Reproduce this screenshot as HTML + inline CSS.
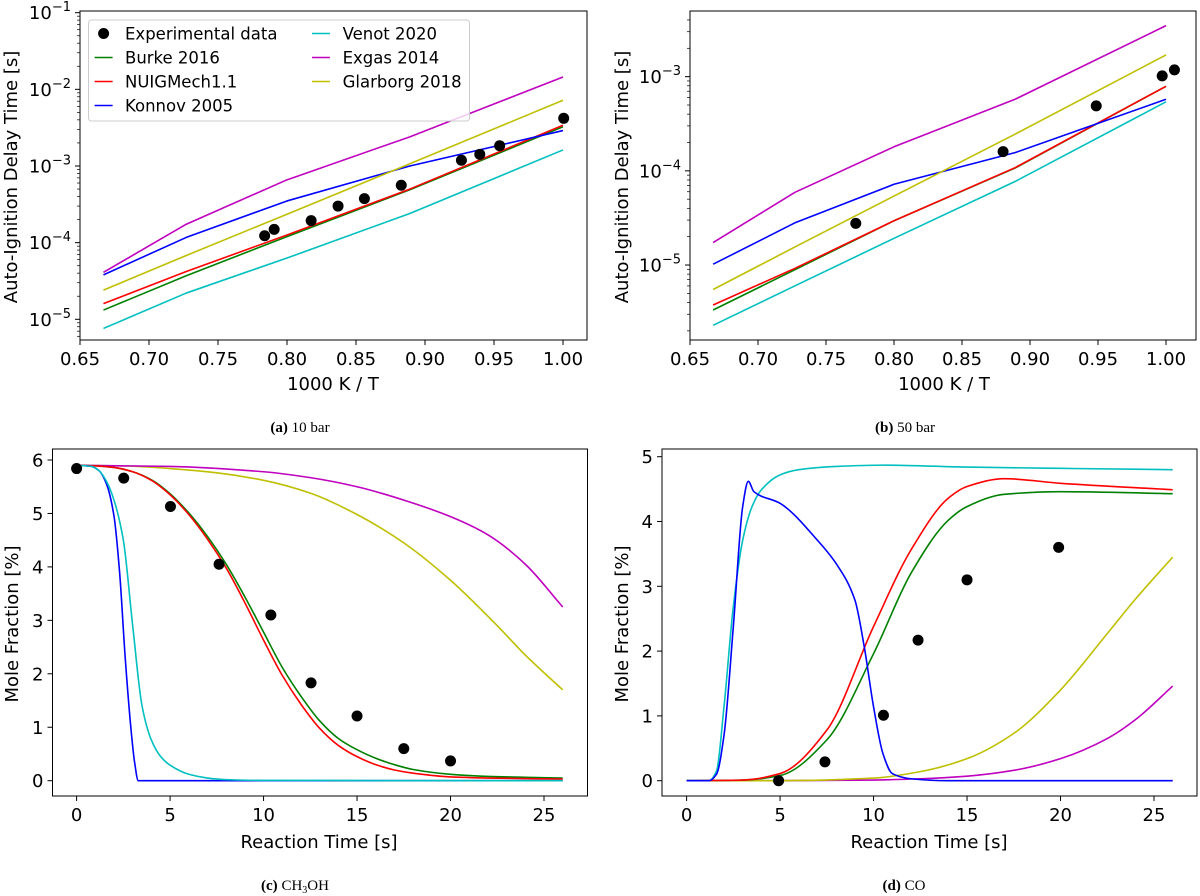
<!DOCTYPE html>
<html><head><meta charset="utf-8">
<style>
html,body{margin:0;padding:0;background:#fff;}
svg{display:block;}
text{font-family:"DejaVu Sans","Liberation Sans",sans-serif;fill:#000;}
.cap{font-family:"Liberation Serif",serif;font-size:15px;}
</style></head>
<body>
<svg id="fig" width="1200" height="896" viewBox="0 0 1200 896" xmlns="http://www.w3.org/2000/svg">
<g id="pa"></g>
<g id="pb"></g>
<g id="pc"></g>
<g id="pd"></g>
<text class="cap" x="300" y="432" text-anchor="middle"><tspan font-weight="bold">(a)</tspan> 10 bar</text>
<text class="cap" x="905" y="432" text-anchor="middle"><tspan font-weight="bold">(b)</tspan> 50 bar</text>
<text class="cap" x="295" y="890" text-anchor="middle"><tspan font-weight="bold">(c)</tspan> CH<tspan font-size="10" dy="3">3</tspan><tspan dy="-3">OH</tspan></text>
<text class="cap" x="904" y="890" text-anchor="middle"><tspan font-weight="bold">(d)</tspan> CO</text>
</svg>
<script>
// ---------- data ----------
const seriesNames = ["Burke 2016","NUIGMech1.1","Konnov 2005","Venot 2020","Exgas 2014","Glarborg 2018"];
const seriesColors = ["#008000","#ff0000","#0000ff","#00bfbf","#bf00bf","#bfbf00"];

// Panel a (10 bar) : x = 1000K/T, y = IDT [s]
const aLineX = [0.667,0.727,0.8,0.889,1.0];
const aBurke   = [1.32e-5,3.7e-5,1.2e-4,4.9e-4,3.25e-3];
const aNUIG    = [1.6e-5,4.2e-5,1.26e-4,5.0e-4,3.4e-3];
const aKonnov  = [3.8e-5,1.17e-4,3.5e-4,1.0e-3,2.9e-3];
const aVenot   = [7.6e-6,2.2e-5,6.3e-5,2.4e-4,1.62e-3];
const aExgas   = [4.1e-5,1.74e-4,6.6e-4,2.4e-3,1.45e-2];
const aGlarborg= [2.4e-5,6.8e-5,2.35e-4,1.07e-3,7.2e-3];
const aExpX = [0.7838,0.7907,0.8175,0.8370,0.8561,0.8828,0.9264,0.9397,0.9541,1.0005];
const aExpY = [1.23e-4,1.49e-4,1.94e-4,3.0e-4,3.75e-4,5.6e-4,1.19e-3,1.42e-3,1.84e-3,4.19e-3];

// Panel b (50 bar)
const bLineX = [0.667,0.727,0.8,0.889,1.0];
const bBurke   = [3.33e-6,8.9e-6,2.95e-5,1.07e-4,7.9e-4];
const bNUIG    = [3.76e-6,9.2e-6,2.95e-5,1.08e-4,7.9e-4];
const bKonnov  = [1.02e-5,2.8e-5,7.2e-5,1.56e-4,5.75e-4];
const bVenot   = [2.29e-6,6.0e-6,1.92e-5,7.7e-5,5.4e-4];
const bExgas   = [1.73e-5,5.9e-5,1.8e-4,5.75e-4,3.48e-3];
const bGlarborg= [5.5e-6,1.55e-5,5.4e-5,2.45e-4,1.7e-3];
const bExpX = [0.7719,0.8802,0.9487,0.9972,1.0062];
const bExpY = [2.77e-5,1.6e-4,4.9e-4,1.02e-3,1.18e-3];

// Panel c (CH3OH mole fraction %)
const cTimeRG = [0,1,2,3,4,5,6,7,8,9,10,11,12,13,14,15,16,17,18,20,22,26];
const cBurke = [5.9,5.89,5.86,5.78,5.63,5.37,5.01,4.57,4.05,3.44,2.78,2.12,1.58,1.12,0.79,0.58,0.42,0.30,0.21,0.12,0.08,0.05];
const cNUIG  = [5.9,5.89,5.86,5.78,5.62,5.35,4.98,4.52,3.98,3.33,2.63,1.97,1.43,0.98,0.66,0.45,0.30,0.20,0.14,0.07,0.05,0.03];
const cTimeKonnov = [0,0.8,1.2,1.6,2.0,2.3,2.6,2.9,3.1,3.3,4,26];
const cKonnov = [5.9,5.88,5.8,5.55,4.95,3.9,2.3,1.0,0.35,0.0,0,0];
const cTimeVenot = [0,0.8,1.2,1.6,2.0,2.5,3.0,3.5,4.0,4.5,5,6,7,8,10,26];
const cVenot = [5.9,5.88,5.8,5.6,5.25,4.5,2.9,1.4,0.76,0.45,0.29,0.12,0.05,0.02,0.005,0];
const cTimeExgas = [0,5,10,12.5,15,17.5,20,22,24,26];
const cExgas = [5.9,5.88,5.78,5.67,5.5,5.25,4.94,4.6,4.05,3.25];
const cTimeGlarborg = [0,2.5,5,7.5,10,12.5,15,17.5,20,22.5,24,26];
const cGlarborg = [5.9,5.89,5.84,5.76,5.62,5.38,4.98,4.45,3.75,2.9,2.35,1.7];
const cExpX = [0,2.52,5.02,7.62,10.39,12.54,15.0,17.5,20.0];
const cExpY = [5.84,5.66,5.13,4.05,3.10,1.83,1.21,0.60,0.37];

// Panel d (CO mole fraction %)
const dTimeVenot = [0,1.2,1.6,2,2.5,3,3.5,4,5,6,8,10.5,15,20,26];
const dVenot = [0,0,0.15,1.14,2.69,3.71,4.23,4.49,4.72,4.8,4.85,4.87,4.84,4.82,4.8];
const dTimeKonnov = [0,1.2,1.6,2,2.5,3,3.3,3.6,5,7,8,9,9.5,10,10.5,11,12,14,26];
const dKonnov = [0,0,0.1,0.7,2.38,4.23,4.62,4.46,4.28,3.71,3.35,2.79,2.07,1.14,0.42,0.11,0.03,0,0];
const dTimeRG = [0,3,5,7.5,10,12,14,15,17,20,26];
const dNUIG  = [0,0.01,0.11,0.78,2.38,3.56,4.36,4.54,4.66,4.59,4.49];
const dBurke = [0,0.01,0.08,0.63,1.96,3.2,4.02,4.23,4.42,4.46,4.43];
const dTimeGM = [0,5,10,12.5,15,17.5,20,22.5,24,26];
const dGlarborg = [0,0,0.04,0.14,0.34,0.73,1.4,2.27,2.8,3.45];
const dExgas = [0,0,0.01,0.03,0.07,0.16,0.34,0.65,0.94,1.46];
const dExpX = [4.92,7.4,10.53,12.38,15.0,19.9];
const dExpY = [0,0.29,1.01,2.17,3.10,3.60];

const xTicksIdt = [0.65,0.70,0.75,0.80,0.85,0.90,0.95,1.00];
const xTickLabelsIdt = ["0.65","0.70","0.75","0.80","0.85","0.90","0.95","1.00"];
const xTicksTime = [0,5,10,15,20,25];
const cYTicks = [0,1,2,3,4,5,6];
const dYTicks = [0,1,2,3,4,5];

// ---------- drawing ----------
const NS = "http://www.w3.org/2000/svg";
const FS = 18;
function el(parent, tag, attrs){ const e=document.createElementNS(NS,tag); for(const k in attrs) e.setAttribute(k,attrs[k]); parent.appendChild(e); return e; }

function linScale(d0,d1,r0,r1){ return v => r0 + (v-d0)/(d1-d0)*(r1-r0); }
function logScale(l0,l1,r0,r1){ return v => r0 + (Math.log10(v)-l0)/(l1-l0)*(r1-r0); }

function drawFrame(g, box){
  const r = el(g,'rect',{x:box.l,y:box.t,width:box.r-box.l,height:box.b-box.t,fill:'none',stroke:'#000','stroke-width':1});
  
  
}
function xTicks(g, box, sx, ticks, labels){
  ticks.forEach((t,i)=>{
    const x=sx(t);
    const tk=el(g,'line',{x1:x,x2:x,y1:box.b,y2:box.b+5,stroke:'#000','stroke-width':1});
    
    
    const tx=el(g,'text',{x:x,y:box.b+25,'text-anchor':'middle','font-size':FS});
    
    
    tx.textContent=labels[i];
  });
}
function yTicksLin(g, box, sy, ticks){
  ticks.forEach(t=>{
    const y=sy(t);
    const tk=el(g,'line',{x1:box.l-5,x2:box.l,y1:y,y2:y,stroke:'#000','stroke-width':1});
    
    
    const tx=el(g,'text',{x:box.l-9,y:y+6.5,'text-anchor':'end','font-size':FS});
    
    
    tx.textContent=String(t);
  });
}
function yTicksLog(g, box, sy, lo, hi){
  for(let d=Math.floor(lo); d<=Math.ceil(hi); d++){
    for(let m=1;m<10;m++){
      const v=m*Math.pow(10,d); const lv=Math.log10(v);
      if(lv<lo-1e-9||lv>hi+1e-9) continue;
      const y=sy(v);
      const tk=el(g,'line',{x1:box.l-(m===1?5:3),x2:box.l,y1:y,y2:y,stroke:'#000','stroke-width':m===1?1:0.7});
      
      
      if(m===1){
        const tx=el(g,'text',{x:box.l-9,y:y+6.5,'text-anchor':'end','font-size':FS});
        
        
        tx.textContent='10';
        const sp=el(tx,'tspan',{dy:-8,'font-size':13}); sp.textContent='\u2212'+(-d);
      }
    }
  }
}
function label(g, x, y, txt, rot, name){
  const t=el(g,'text',{x:x,y:y,'text-anchor':'middle','font-size':FS});
  if(rot) t.setAttribute('transform',`rotate(-90 ${x} ${y})`);
  
  
  t.textContent=txt;
}
function line(g, sx, sy, xs, ys, color, name){
  const pts=xs.map((x,i)=>sx(x).toFixed(2)+','+sy(ys[i]).toFixed(2)).join(' ');
  const p=el(g,'polyline',{points:pts,fill:'none',stroke:color,'stroke-width':1.6,'stroke-linejoin':'round'});
  
  
}
// monotone cubic (Fritsch-Carlson) smooth curve
function smooth(g, sx, sy, xs, ys, color, name){
  const X=xs.map(sx), Y=ys.map(sy), n=X.length;
  const dl=[], m=new Array(n);
  for(let i=0;i<n-1;i++) dl.push((Y[i+1]-Y[i])/(X[i+1]-X[i]));
  m[0]=dl[0]; m[n-1]=dl[n-2];
  for(let i=1;i<n-1;i++){
    if(dl[i-1]*dl[i]<=0) m[i]=0;
    else { const h0=X[i]-X[i-1], h1=X[i+1]-X[i]; const w1=2*h1+h0, w2=h1+2*h0; m[i]=(w1+w2)/(w1/dl[i-1]+w2/dl[i]); }
  }
  let d=`M${X[0].toFixed(2)},${Y[0].toFixed(2)}`;
  for(let i=0;i<n-1;i++){
    const h=(X[i+1]-X[i])/3;
    d+=` C${(X[i]+h).toFixed(2)},${(Y[i]+m[i]*h).toFixed(2)} ${(X[i+1]-h).toFixed(2)},${(Y[i+1]-m[i+1]*h).toFixed(2)} ${X[i+1].toFixed(2)},${Y[i+1].toFixed(2)}`;
  }
  const p=el(g,'path',{d:d,fill:'none',stroke:color,'stroke-width':1.6,'stroke-linejoin':'round'});
  
  
}
function dots(g, sx, sy, xs, ys, name){
  xs.forEach((x,i)=>{
    const c=el(g,'circle',{cx:sx(x),cy:sy(ys[i]),r:5.5,fill:'#000'});
    
    
  });
}
function clip(g, id, box){
  const d=el(g,'clipPath',{id:id}); el(d,'rect',{x:box.l,y:box.t,width:box.r-box.l,height:box.b-box.t});
  const cg=el(g,'g',{'clip-path':`url(#${id})`});
  
  
  return cg;
}

// Panel a
(function(){
  const g=document.getElementById('pa');
  const box={l:80,r:587,t:11,b:340};
  const lo=-5.27, hi=-0.978;
  const sx=linScale(0.65,1.0,80,563);
  const sy=logScale(lo,hi,340,11);
  const pg=clip(g,'ca',box);
  const sets=[aBurke,aNUIG,aKonnov,aVenot,aExgas,aGlarborg];
  const names=['line-burke-2016','line-nuigmech1-1','line-konnov-2005','line-venot-2020','line-exgas-2014','line-glarborg-2018'];
  sets.forEach((s,i)=>line(pg,sx,sy,aLineX,s,seriesColors[i],names[i]));
  dots(pg,sx,sy,aExpX,aExpY,'experimental-point');
  drawFrame(g,box);
  xTicks(g,box,sx,xTicksIdt,xTickLabelsIdt);
  yTicksLog(g,box,sy,lo,hi);
  label(g,333,390,'1000 K / T',false,'x-axis-title');
  label(g,17,177,'Auto-Ignition Delay Time [s]',true,'y-axis-title');
  const lg=el(g,'g',{});
  
  
  const lr=el(lg,'rect',{x:88.5,y:20,width:381,height:101,rx:3,fill:'#fff','fill-opacity':0.8,stroke:'#ccc','stroke-width':1});
  
  
  const entries=[['Experimental data',null],['Burke 2016',0],['NUIGMech1.1',1],['Konnov 2005',2],['Venot 2020',3],['Exgas 2014',4],['Glarborg 2018',5]];
  entries.forEach((e,i)=>{
    const col=i<4?0:1, row=i<4?i:i-4;
    const x0=col===0?94.6:312, tx=col===0?125:342.6, y=33.5+row*24;
    const eg=el(lg,'g',{});
    
    
    if(e[1]===null){
      const c=el(eg,'circle',{cx:x0+9,cy:y,r:5.5,fill:'#000'});
      
      
    } else {
      const l=el(eg,'line',{x1:x0,x2:x0+18,y1:y,y2:y,stroke:seriesColors[e[1]],'stroke-width':1.6});
      
      
    }
    const t=el(eg,'text',{x:tx,y:y+6,'font-size':16.5});
    
    
    t.textContent=e[0];
  });
})();

// Panel b
(function(){
  const g=document.getElementById('pb');
  const box={l:690,r:1196,t:11,b:340};
  const lo=-5.796, hi=-2.303;
  const sx=linScale(0.65,1.0,690,1166);
  const sy=logScale(lo,hi,340,11);
  const pg=clip(g,'cb',box);
  const sets=[bBurke,bNUIG,bKonnov,bVenot,bExgas,bGlarborg];
  const names=['line-burke-2016','line-nuigmech1-1','line-konnov-2005','line-venot-2020','line-exgas-2014','line-glarborg-2018'];
  sets.forEach((s,i)=>line(pg,sx,sy,bLineX,s,seriesColors[i],names[i]));
  dots(pg,sx,sy,bExpX,bExpY,'experimental-point');
  drawFrame(g,box);
  xTicks(g,box,sx,xTicksIdt,xTickLabelsIdt);
  yTicksLog(g,box,sy,lo,hi);
  label(g,944,390,'1000 K / T',false,'x-axis-title');
  label(g,628,177,'Auto-Ignition Delay Time [s]',true,'y-axis-title');
})();

// Panel c
(function(){
  const g=document.getElementById('pc');
  const box={l:52.5,r:587.5,t:449,b:796};
  const sx=linScale(0,25,76.6,544);
  const sy=linScale(0,6,780.7,460);
  const pg=clip(g,'cc',box);
  smooth(pg,sx,sy,cTimeGlarborg,cGlarborg,seriesColors[5],'line-glarborg-2018');
  smooth(pg,sx,sy,cTimeExgas,cExgas,seriesColors[4],'line-exgas-2014');
  smooth(pg,sx,sy,cTimeRG,cBurke,seriesColors[0],'line-burke-2016');
  smooth(pg,sx,sy,cTimeRG,cNUIG,seriesColors[1],'line-nuigmech1-1');
  smooth(pg,sx,sy,cTimeKonnov,cKonnov,seriesColors[2],'line-konnov-2005');
  smooth(pg,sx,sy,cTimeVenot,cVenot,seriesColors[3],'line-venot-2020');
  dots(pg,sx,sy,cExpX,cExpY,'experimental-point');
  drawFrame(g,box);
  xTicks(g,box,sx,xTicksTime,xTicksTime.map(String));
  yTicksLin(g,box,sy,cYTicks);
  label(g,319,848,'Reaction Time [s]',false,'x-axis-title');
  label(g,18,624,'Mole Fraction [%]',true,'y-axis-title');
})();

// Panel d
(function(){
  const g=document.getElementById('pd');
  const box={l:662,r:1197,t:449,b:796};
  const sx=linScale(0,25,686.6,1154);
  const sy=linScale(0,5,780.7,456.7);
  const pg=clip(g,'cd',box);
  smooth(pg,sx,sy,dTimeGM,dExgas,seriesColors[4],'line-exgas-2014');
  smooth(pg,sx,sy,dTimeGM,dGlarborg,seriesColors[5],'line-glarborg-2018');
  smooth(pg,sx,sy,dTimeRG,dBurke,seriesColors[0],'line-burke-2016');
  smooth(pg,sx,sy,dTimeRG,dNUIG,seriesColors[1],'line-nuigmech1-1');
  smooth(pg,sx,sy,dTimeVenot,dVenot,seriesColors[3],'line-venot-2020');
  smooth(pg,sx,sy,dTimeKonnov,dKonnov,seriesColors[2],'line-konnov-2005');
  dots(pg,sx,sy,dExpX,dExpY,'experimental-point');
  drawFrame(g,box);
  xTicks(g,box,sx,xTicksTime,xTicksTime.map(String));
  yTicksLin(g,box,sy,dYTicks);
  label(g,929,848,'Reaction Time [s]',false,'x-axis-title');
  label(g,628,624,'Mole Fraction [%]',true,'y-axis-title');
})();
</script>
</body></html>
